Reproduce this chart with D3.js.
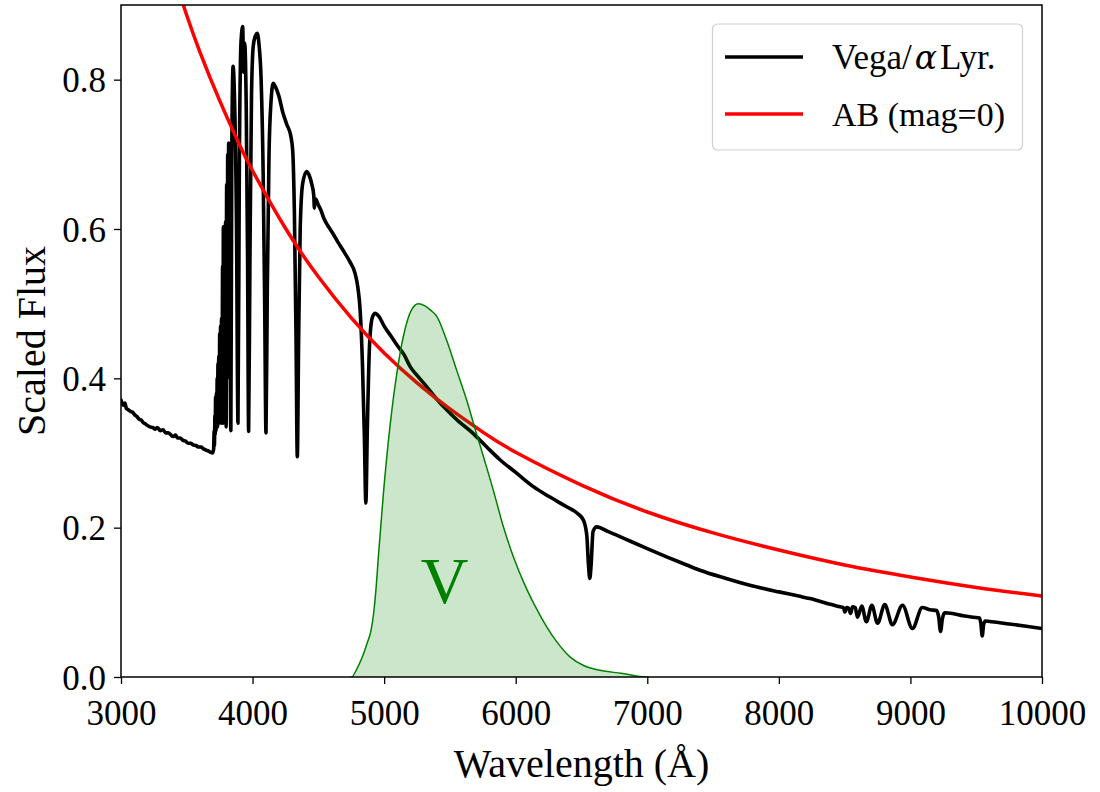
<!DOCTYPE html>
<html>
<head>
<meta charset="utf-8">
<script src="https://cdn.jsdelivr.net/npm/d3@7"></script>
<style>
  html, body { margin: 0; padding: 0; background: #fff; }
  svg { display: block; }
  text { font-family: "Liberation Serif", "DejaVu Serif", serif; }
</style>
</head>
<body>
<svg id="chart" width="1100" height="792"></svg>
<script>
// ---------------- data ----------------
const xTicks = [3000, 4000, 5000, 6000, 7000, 8000, 9000, 10000];
const yTicks = [0.0, 0.2, 0.4, 0.6, 0.8];
const seriesNames = ["Vega/\u03b1Lyr.", "AB (mag=0)"];
const bandLabel = "V";

// Vega spectrum (wavelength in Å, scaled flux)
const vegaWave = [3000,3010,3020,3030,3040,3055,3070,3091,3105,3120,3140,3155,3167,3185,3200,3220,3243,3260,3275,3300,3319,3340,3360,3395,3415,3430,3450,3471,3490,3510,3530,3547,3570,3590,3610,3623,3645,3660,3680,3695,
 3704,3708,3710,3714,3716,3719,3722,3725,3728,3731,3734,3737,3740,3743,3747,3750,3753,3757,3761,3764,3768,3772,3775,3778,3783,3787,3791,3795,3799,3803,3807,3811,3815,3818,3823,3828,3835,3842,3852,3862,3878,3889,
 3900,3912,3925,3932,3940,3952,3962,3970,3980,3992,4005,4020,4035,4050,4065,4080,4092,4102,4112,4125,4140,4157,4175,4200,4230,4260,4290,
 4305,4318,4330,4340,4350,4362,4380,4410,4430,4450,4465,4470,4474,4480,4500,4520,4540,4570,4600,4650,4700,4740,4780,4800,4818,4835,4850,
 4861,4872,4888,4908,4930,4960,5000,5050,5100,5150,5200,5250,5323,5400,5475,5550,5678,5780,5880,6000,6134,6250,6387,6470,6515,6540,6553,
 6563,6573,6588,6615,6700,6843,7000,7147,7300,7400,7600,7780,8000,8160,8236,8400,8464,8490,8502,8515,8530,8545,8560,8580,8598,8630,
 8665,8707,8750,8805,8863,8940,9015,9090,9150,9200,9215,9229,9243,9260,9320,9400,9480,9525,9535,9546,9556,9570,9620,9750,9880,10000];
const vegaFlux = [0.371,0.366,0.364,0.367,0.360,0.358,0.356,0.354,0.351,0.349,0.345,0.344,0.341,0.339,0.337,0.335,0.334,0.332,0.334,0.330,0.331,0.327,0.327,0.322,0.324,0.320,0.320,0.317,0.316,0.313,0.313,0.311,0.310,0.308,0.308,0.306,0.304,0.303,0.301,0.300,
 0.305,0.330,0.310,0.350,0.325,0.375,0.330,0.380,0.340,0.400,0.335,0.420,0.345,0.430,0.340,0.460,0.345,0.470,0.340,0.480,0.350,0.550,0.340,0.603,0.345,0.600,0.350,0.610,0.335,0.660,0.400,0.700,0.450,0.715,0.670,0.500,0.330,0.700,0.818,0.780,0.600,0.340,
 0.700,0.850,0.871,0.810,0.849,0.760,0.560,0.329,0.560,0.780,0.845,0.858,0.862,0.845,0.800,0.680,0.500,0.327,0.520,0.700,0.770,0.795,0.790,0.778,0.756,0.740,0.725,
 0.705,0.620,0.460,0.295,0.450,0.600,0.660,0.677,0.672,0.660,0.645,0.628,0.640,0.640,0.632,0.625,0.615,0.605,0.597,0.582,0.568,0.556,0.540,0.522,0.490,0.420,0.320,
 0.233,0.330,0.440,0.480,0.487,0.483,0.470,0.457,0.444,0.432,0.415,0.404,0.389,0.372,0.358,0.345,0.326,0.308,0.291,0.274,0.255,0.242,0.228,0.219,0.210,0.190,0.150,
 0.132,0.150,0.195,0.201,0.195,0.184,0.172,0.161,0.150,0.143,0.132,0.123,0.114,0.108,0.105,0.097,0.094,0.093,0.087,0.093,0.092,0.085,0.094,0.093,0.080,0.095,
 0.074,0.096,0.072,0.097,0.070,0.096,0.065,0.093,0.090,0.089,0.080,0.061,0.078,0.086,0.085,0.082,0.080,0.079,0.072,0.055,0.070,0.075,0.074,0.071,0.068,0.065];

// AB magnitude zero spectrum
const abWave = [3400,3500,3600,3750,3900,4000,4250,4500,4750,5000,5250,5500,5750,6000,6500,7000,7500,8000,8500,9000,9500,10000];
const abFlux = [0.939,0.886,0.837,0.772,0.713,0.678,0.601,0.536,0.481,0.434,0.394,0.359,0.328,0.301,0.257,0.221,0.193,0.170,0.150,0.134,0.120,0.1085];

// V band transmission (scaled)
const vWave = [4740,4753,4790,4830,4870,4900,4920,4940,4956,4994,5044,5095,5146,5209,5260,5310,5355,5400,5475,5551,5627,5690,5760,5830,5900,5982,6080,6184,6300,6412,6520,6640,6800,6995,7010];
const vFlux = [0.000,0.000,0.010,0.025,0.045,0.062,0.085,0.122,0.161,0.245,0.335,0.405,0.456,0.492,0.500,0.497,0.491,0.483,0.451,0.411,0.371,0.333,0.292,0.250,0.205,0.161,0.119,0.083,0.050,0.027,0.015,0.009,0.005,0.000,0.000];

// ---------------- layout ----------------
const svg = d3.select("#chart");
const L = 121, R = 1042, T = 5, B = 677;
const x = d3.scaleLinear().domain([3000, 10000]).range([L, R]);
const y = d3.scaleLinear().domain([0, 0.9]).range([B, T]);

svg.append("defs").append("clipPath").attr("id", "clip")
  .append("rect").attr("x", L).attr("y", T).attr("width", R - L).attr("height", B - T);

const plot = svg.append("g").attr("clip-path", "url(#clip)");

const toPts = (w, f) => w.map((d, i) => [d, f[i]]);

const line = d3.line().x(d => x(d[0])).y(d => y(d[1])).curve(d3.curveMonotoneX);

plot.append("path")
  .datum(toPts(vegaWave, vegaFlux))
  .attr("d", line)
  .attr("fill", "none").attr("stroke", "#000").attr("stroke-width", 3.6)
  .attr("stroke-linejoin", "round").attr("stroke-linecap", "round");

plot.append("path")
  .datum(toPts(abWave, abFlux))
  .attr("d", d3.line().x(d => x(d[0])).y(d => y(d[1])).curve(d3.curveNatural))
  .attr("fill", "none").attr("stroke", "#ff0000").attr("stroke-width", 3.5);

const vPts = toPts(vWave, vFlux);
plot.append("path")
  .datum(vPts)
  .attr("d", d3.area().x(d => x(d[0])).y0(y(0)).y1(d => y(d[1])).curve(d3.curveMonotoneX))
  .attr("fill", "#008000").attr("fill-opacity", 0.2).attr("stroke", "none");
plot.append("path")
  .datum(vPts)
  .attr("d", line)
  .attr("fill", "none").attr("stroke", "#008000").attr("stroke-width", 1.5);

svg.append("text")
  .attr("x", x(5460)).attr("y", 603)
  .attr("text-anchor", "middle")
  .attr("font-size", 66).attr("fill", "#008000")
  .text(bandLabel);

// ---------------- axes ----------------
const xAxis = svg.append("g").attr("transform", `translate(0,${B})`)
  .call(d3.axisBottom(x).tickValues(xTicks).tickFormat(d3.format("d")).tickSize(7).tickPadding(8));
const yAxis = svg.append("g").attr("transform", `translate(${L},0)`)
  .call(d3.axisLeft(y).tickValues(yTicks).tickFormat(d3.format(".1f")).tickSize(7).tickPadding(8));
[xAxis, yAxis].forEach(a => {
  a.select(".domain").remove();
  a.selectAll("line").attr("stroke", "#000").attr("stroke-width", 1.3);
  a.selectAll("text").attr("font-family", "'Liberation Serif', serif").attr("font-size", 35).attr("fill", "#000");
});
xAxis.selectAll("text").attr("dy", "0.95em");
yAxis.selectAll("text").attr("dy", "0.35em");

svg.append("rect").attr("x", L).attr("y", T).attr("width", R - L).attr("height", B - T)
  .attr("fill", "none").attr("stroke", "#000").attr("stroke-width", 1.5);

svg.append("text")
  .attr("x", (L + R) / 2).attr("y", 777)
  .attr("text-anchor", "middle").attr("font-size", 40)
  .text("Wavelength (\u00c5)");

svg.append("text")
  .attr("transform", `translate(45,${(T + B) / 2}) rotate(-90)`)
  .attr("text-anchor", "middle").attr("font-size", 40)
  .text("Scaled Flux");

// ---------------- legend ----------------
const lg = svg.append("g");
lg.append("rect").attr("x", 712.5).attr("y", 24).attr("width", 310).attr("height", 126)
  .attr("rx", 5).attr("fill", "#fff").attr("fill-opacity", 0.8)
  .attr("stroke", "#d0d0d0").attr("stroke-width", 1.2);
const legColors = ["#000", "#ff0000"];
const legY = [57, 114];
seriesNames.forEach((name, i) => {
  lg.append("line").attr("x1", 725).attr("x2", 803).attr("y1", legY[i]).attr("y2", legY[i])
    .attr("stroke", legColors[i]).attr("stroke-width", 3.5);
  const t = lg.append("text").attr("x", 832).attr("y", legY[i]).attr("dy", "0.35em")
    .attr("font-size", 34);
  if (i === 0) {
    t.append("tspan").attr("font-size", 35).text("Vega/");
    t.append("tspan").attr("dx", 3).attr("font-family", "'DejaVu Serif', serif").attr("font-style", "italic").attr("font-size", 33).text("\u03b1");
    t.append("tspan").attr("dx", 3).attr("font-size", 35).text("Lyr.");
  } else {
    t.text(name);
  }
});
</script>
</body>
</html>
